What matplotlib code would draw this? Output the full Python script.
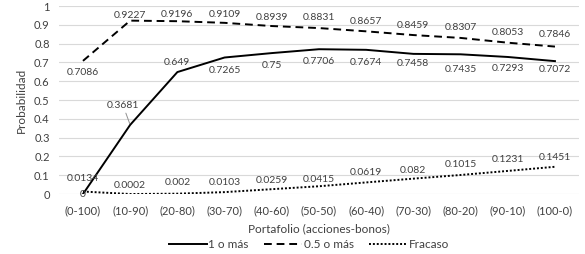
import matplotlib
matplotlib.use("Agg")
import matplotlib.pyplot as plt

categories = ["(0-100)", "(10-90)", "(20-80)", "(30-70)", "(40-60)", "(50-50)",
              "(60-40)", "(70-30)", "(80-20)", "(90-10)", "(100-0)"]
uno_o_mas = [0, 0.3681, 0.649, 0.7265, 0.75, 0.7706, 0.7674, 0.7458, 0.7435, 0.7293, 0.7072]
medio_o_mas = [0.7086, 0.9227, 0.9196, 0.9109, 0.8939, 0.8831, 0.8657, 0.8459, 0.8307, 0.8053, 0.7846]
fracaso = [0.0134, 0.0002, 0.002, 0.0103, 0.0259, 0.0415, 0.0619, 0.082, 0.1015, 0.1231, 0.1451]
y_ticks = [0, 0.1, 0.2, 0.3, 0.4, 0.5, 0.6, 0.7, 0.8, 0.9, 1]

# label offsets in pixels (positive = up)
dy_medio = [-12, 5.5, 6.5, 8.5, 9, 11, 10, 10, 10, 10.5, 12.5]
dy_uno = [0, 19, 10, -12.5, -12.5, -12.5, -13, -10, -15.5, -11.5, -8.5]
dy_fracaso = [13, 9, 11, 9.5, 9, 7, 9.5, 8, 10, 11, 9.5]

plt.rcParams["font.family"] = ["Lato", "DejaVu Sans"]
txt = "#404040"

fig = plt.figure(figsize=(5.85, 2.54), dpi=100)
ax = fig.add_axes([0.1015, 0.236, 0.8875, 0.74])
x = list(range(len(categories)))

ax.plot(x, uno_o_mas, color="black", lw=1.4, label="1 o más")
ax.plot(x, medio_o_mas, color="black", lw=1.4, ls=(0, (4, 2.5)), label="0.5 o más")
ax.plot(x, fracaso, color="black", lw=1.4, ls=(0, (1, 1)), label="Fracaso")

fs = 7.5


def put(series, offsets):
    for i, v in enumerate(series):
        ax.annotate(f"{v:g}", (i, v), xytext=(0, offsets[i]), textcoords="offset pixels",
                    ha="center", va="center", fontsize=fs, color=txt)


put(medio_o_mas, dy_medio)
put(fracaso, dy_fracaso)
for i, v in enumerate(uno_o_mas):
    if i == 1:
        ax.annotate(f"{v:g}", (i, v), xytext=(-7, dy_uno[i]), textcoords="offset pixels",
                    ha="center", va="center", fontsize=fs, color=txt,
                    arrowprops=dict(arrowstyle="-", color="#909090", lw=0.7,
                                    shrinkA=0, shrinkB=1))
    else:
        ax.annotate(f"{v:g}", (i, v), xytext=(0, dy_uno[i]), textcoords="offset pixels",
                    ha="center", va="center", fontsize=fs, color=txt)

ax.set_xlim(-0.5, len(categories) - 0.5)
ax.set_ylim(0, 1)
ax.set_yticks(y_ticks)
ax.set_yticklabels([f"{t:g}" for t in y_ticks])
ax.set_xticks(x)
ax.set_xticklabels(categories)
ax.tick_params(length=0, labelsize=8, labelcolor=txt)
ax.tick_params(axis="y", pad=7)
ax.tick_params(axis="x", pad=8)
ax.grid(axis="y", color="#d9d9d9", lw=0.8)
ax.set_axisbelow(True)
for s in ax.spines.values():
    s.set_visible(False)
ax.set_ylabel("Probabilidad", fontsize=8.5, color=txt, labelpad=5)
ax.set_xlabel("Portafolio (acciones-bonos)", fontsize=8.5, color=txt, labelpad=5)
fig.legend(loc="center", bbox_to_anchor=(0.528, 1 - 245 / 254), ncol=3, frameon=False,
           fontsize=8.5, labelcolor=txt, handlelength=3.2, columnspacing=1.3,
           handletextpad=0.15)

fig.savefig("out.png", dpi=100)
